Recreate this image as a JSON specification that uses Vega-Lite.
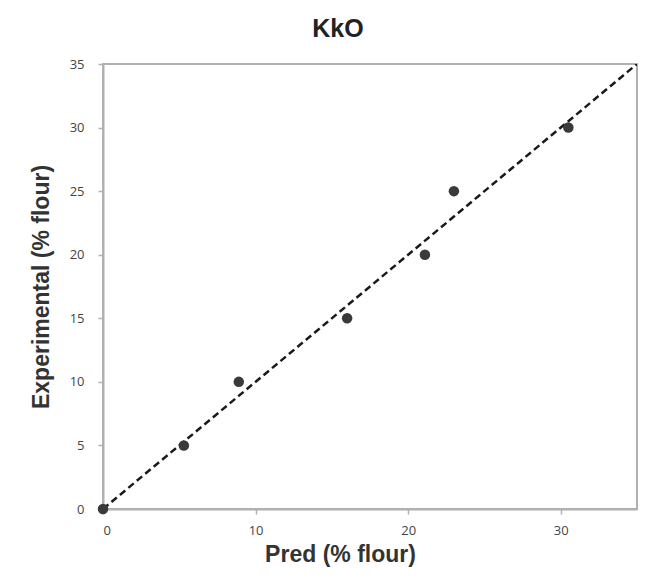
{
  "$schema": "https://vega.github.io/schema/vega-lite/v6.json",
  "autosize": "none",
  "width": 534,
  "height": 445,
  "padding": {"left": 103, "top": 64, "right": 9, "bottom": 69},
  "background": "white",
  "title": {"text": "KkO", "fontSize": 25, "font": "Liberation Sans", "fontWeight": "bold", "color": "#222222", "anchor": "middle", "dx": -32, "offset": 16},
  "config": {"view": {"stroke": "#b0b0b0", "strokeWidth": 2}},
  "datasets": {
    "pts": [
      {"pred": 0, "exp": 0},
      {"pred": 5.3, "exp": 5},
      {"pred": 8.9, "exp": 10},
      {"pred": 16.0, "exp": 15},
      {"pred": 21.1, "exp": 20},
      {"pred": 23.0, "exp": 25},
      {"pred": 30.5, "exp": 30}
    ],
    "line": [
      {"pred": 0, "exp": 0},
      {"pred": 35, "exp": 35}
    ]
  },
  "layer": [
    {
      "data": {"name": "line"},
      "mark": {"type": "line", "color": "#1a1a1a", "strokeWidth": 2.5, "strokeDash": [7, 4], "clip": true},
      "encoding": {
        "x": {"field": "pred", "type": "quantitative"},
        "y": {"field": "exp", "type": "quantitative"}
      }
    },
    {
      "data": {"name": "pts"},
      "mark": {"type": "circle", "color": "#3a3a3a", "opacity": 1, "size": 110},
      "encoding": {
        "x": {
          "field": "pred", "type": "quantitative",
          "scale": {"domain": [0, 35], "nice": false, "zero": true},
          "axis": {"values": [0, 10, 20, 30], "grid": false, "title": "Pred (% flour)", "titleFontSize": 23, "titleFont": "Liberation Sans", "titleFontWeight": "bold", "titleColor": "#333333", "titlePadding": 6, "titleX": 237, "titleAnchor": "middle",
            "labelFont": "Open Sans", "labelFontSize": 13, "labelColor": "#444444", "labelPadding": 10, "domainColor": "#b0b0b0", "domainWidth": 2, "tickColor": "#b0b0b0", "tickWidth": 1.5, "tickSize": 5, "tickOffset": 0}
        },
        "y": {
          "field": "exp", "type": "quantitative",
          "scale": {"domain": [0, 35], "nice": false},
          "axis": {"values": [0, 5, 10, 15, 20, 25, 30, 35], "grid": false, "title": "Experimental (% flour)", "titleFontSize": 23, "titleFont": "Liberation Sans", "titleFontWeight": "bold", "titleColor": "#333333", "titlePadding": 16,
            "labelFont": "Open Sans", "labelFontSize": 13, "labelColor": "#444444", "labelPadding": 14, "domainColor": "#b0b0b0", "domainWidth": 2, "tickColor": "#b0b0b0", "tickWidth": 1.5, "tickSize": 5}
        }
      }
    }
  ]
}
